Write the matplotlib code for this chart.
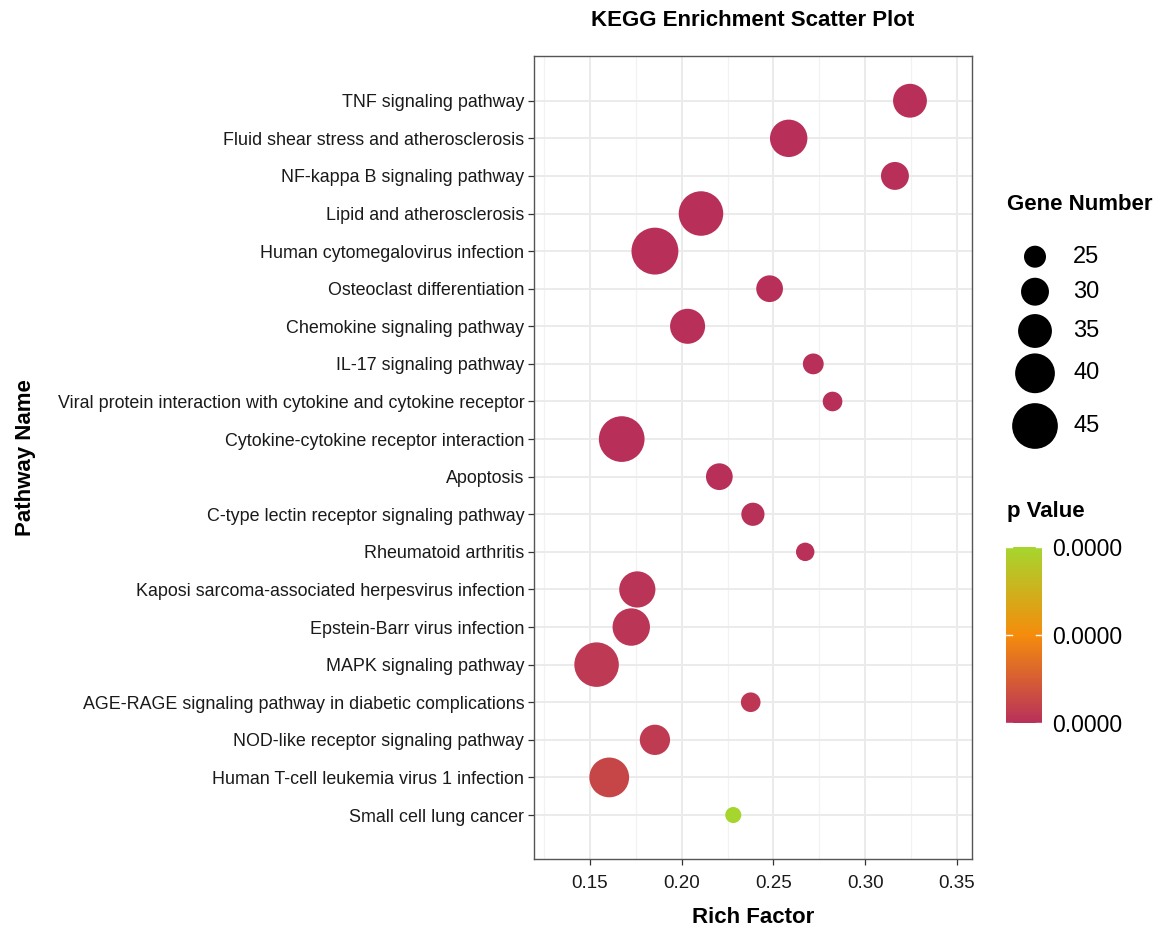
import matplotlib
matplotlib.use("Agg")
import matplotlib.pyplot as plt
import numpy as np
from matplotlib.colors import LinearSegmentedColormap, Normalize
from matplotlib.cm import ScalarMappable

plt.rcParams['font.family'] = ['Liberation Sans', 'DejaVu Sans']

# ---- data -------------------------------------------------------------
pathways = [
    "TNF signaling pathway",
    "Fluid shear stress and atherosclerosis",
    "NF-kappa B signaling pathway",
    "Lipid and atherosclerosis",
    "Human cytomegalovirus infection",
    "Osteoclast differentiation",
    "Chemokine signaling pathway",
    "IL-17 signaling pathway",
    "Viral protein interaction with cytokine and cytokine receptor",
    "Cytokine-cytokine receptor interaction",
    "Apoptosis",
    "C-type lectin receptor signaling pathway",
    "Rheumatoid arthritis",
    "Kaposi sarcoma-associated herpesvirus infection",
    "Epstein-Barr virus infection",
    "MAPK signaling pathway",
    "AGE-RAGE signaling pathway in diabetic complications",
    "NOD-like receptor signaling pathway",
    "Human T-cell leukemia virus 1 infection",
    "Small cell lung cancer",
]
rich_factor = [0.3244, 0.2583, 0.3162, 0.2105, 0.1854, 0.2479, 0.2032,
               0.2717, 0.2822, 0.1673, 0.2205, 0.2388, 0.2673, 0.1758,
               0.1725, 0.1536, 0.2376, 0.1854, 0.1605, 0.2281]
gene_number = [35, 38, 30, 44, 46, 29, 36, 24, 23, 45, 29, 26, 22, 37,
               38, 44, 23, 32, 40, 20]
p_value = [1e-12, 2e-12, 3e-11, 5e-14, 1e-13, 4e-11, 2e-12, 6e-10, 8e-10,
           3e-13, 1e-10, 1.5e-7, 2e-7, 4e-7, 6e-7, 1.0e-6, 8e-7, 1.2e-6,
           2.4e-6, 2.0e-5]

size_breaks = [25, 30, 35, 40, 45]
p_ticks = [0.0, 1.0e-5, 2.0e-5]

# ---- helpers ----------------------------------------------------------
DPI = 100
W, H = 1158, 927


def marker_area(n):
    """Marker area (pt^2) for a gene count."""
    d_px = 22 + 1.185 * (np.asarray(n, dtype=float) - 25)
    return (d_px * 72 / DPI) ** 2


def px_box(x0, y0, x1, y1):
    """Figure-fraction rect from pixel corners (origin top-left)."""
    return [x0 / W, 1 - y1 / H, (x1 - x0) / W, (y1 - y0) / H]


cmap = LinearSegmentedColormap.from_list(
    "pval", ["#B8305A", "#F58C0C", "#A6D62E"])
norm = Normalize(vmin=0.0, vmax=2.0e-5)

fig = plt.figure(figsize=(W / DPI, H / DPI), dpi=DPI)

# ---- main panel -------------------------------------------------------
PX0, PX1 = 534, 972
ax = fig.add_axes(px_box(PX0, 56, PX1, 859))
ypos = np.arange(1, len(pathways) + 1)
ax.scatter(rich_factor, ypos, s=marker_area(gene_number),
           c=p_value, cmap=cmap, norm=norm, edgecolors='none', zorder=3)

ax.set_xlim(0.1195, 0.3582)
ax.set_ylim(21.17, -0.19)
ax.set_xticks([0.15, 0.20, 0.25, 0.30, 0.35])
ax.set_xticklabels(["0.15", "0.20", "0.25", "0.30", "0.35"])
ax.set_xticks(np.arange(0.125, 0.36, 0.05), minor=True)
ax.set_yticks(ypos)
ax.set_yticklabels(pathways)
ax.grid(True, which='major', color='#EBEBEB', linewidth=1.4, zorder=0)
ax.grid(True, which='minor', axis='x', color='#F2F2F2', linewidth=0.9, zorder=0)
ax.set_axisbelow(True)
ax.tick_params(axis='both', which='major', length=4, width=0.9,
               color='#333333', labelcolor='#1A1A1A')
ax.tick_params(axis='y', which='major', labelsize=12.9, pad=3)
ax.tick_params(axis='x', which='major', labelsize=13.5, pad=7.5)
ax.tick_params(axis='x', which='minor', length=0)
for sp in ax.spines.values():
    sp.set_color('#555555')
    sp.set_linewidth(1.0)

ax.set_xlabel("Rich Factor", fontsize=16, fontweight='bold', labelpad=11)
ax.set_ylabel("Pathway Name", fontsize=16, fontweight='bold')
ax.yaxis.set_label_coords((36 - PX0) / (PX1 - PX0), 0.5)
ax.set_title("KEGG Enrichment Scatter Plot", fontsize=16,
             fontweight='bold', pad=21.5)

# ---- size legend ------------------------------------------------------
lax = fig.add_axes(px_box(995, 185, 1158, 460))
lax.set_xlim(995, 1158)
lax.set_ylim(460, 185)
lax.axis('off')
lax.text(1007, 205, "Gene Number", fontsize=16, fontweight='bold',
         va='center', ha='left')
leg_y = [256.7, 291.7, 331, 373.3, 426]
lax.scatter([1035] * len(size_breaks), leg_y, s=marker_area(size_breaks),
            color='black', edgecolors='none')
for yv, lab in zip(leg_y, size_breaks):
    lax.text(1073, yv, str(lab), fontsize=17, va='center', ha='left')

# ---- colour bar -------------------------------------------------------
fig.text(1007 / W, 1 - 512 / H, "p Value", fontsize=16,
         fontweight='bold', va='center', ha='left')
cax = fig.add_axes(px_box(1006, 547, 1042, 723))
sm = ScalarMappable(norm=norm, cmap=cmap)
cb = fig.colorbar(sm, cax=cax, ticks=p_ticks)
cb.outline.set_visible(False)
cb.ax.set_yticklabels([f"{t:.4f}" for t in p_ticks])
cb.ax.tick_params(length=0, labelsize=16.5, pad=7)
for t in p_ticks:
    cax.plot([0, 0.18], [t, t], color='white', lw=1,
             transform=cax.get_yaxis_transform())
    cax.plot([0.82, 1.0], [t, t], color='white', lw=1,
             transform=cax.get_yaxis_transform())

fig.savefig("out.png", dpi=DPI)
